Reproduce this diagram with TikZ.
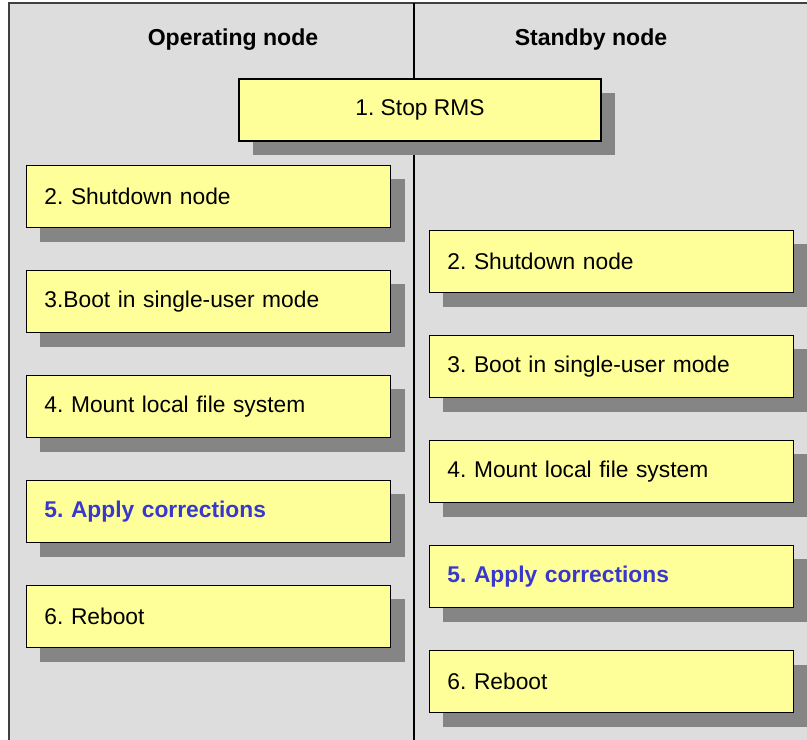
\documentclass[tikz,border=0pt]{standalone}
\usepackage{fontspec}
\setmainfont{Liberation Sans}
\usetikzlibrary{shadows}
\frenchspacing

\definecolor{panelgray}{HTML}{DDDDDD}
\definecolor{boxyellow}{HTML}{FFFF99}
\definecolor{shadowgray}{HTML}{858585}
\definecolor{fixblue}{HTML}{3838CC}

\tikzset{
	stepbox/.style = {draw = black, line width = 1.1pt, fill = boxyellow, minimum height = 1.55cm,
			inner ysep = 0pt, font = \fontsize{16.2}{19}\selectfont,
			drop shadow = {shadow xshift = 0.35cm, shadow yshift = -0.35cm, fill = shadowgray, opacity = 1}},
	listbox/.style = {stepbox, inner xsep = 0.45cm, text width = 8.2cm, align = left},
	plaintext/.style = {},
	fixtext/.style = {text = fixblue, font = \fontsize{16.2}{19}\selectfont\bfseries},
	head/.style = {font = \fontsize{16.4}{19}\selectfont\bfseries},
}

\begin{document}
\begin{tikzpicture}[x = 0.025cm, y = -0.025cm]
	\useasboundingbox (0, 0) rectangle (807, 740);
	\fill[white] (0, 0) rectangle (807, 740);
	\clip (0, 0) rectangle (807, 740);

	% panel and divider
	\draw[fill = panelgray, draw = black!75, line width = 0.9pt] (9, 3) rectangle (830, 760);
	\draw[line width = 0.9pt] (414, 3) -- (414, 760);

	\node[head] (ophead) at (233, 40) {Operating node};
	\node[head] (sbhead) at (591, 40) {Standby node};

	\node[stepbox, minimum width = 9.05cm, align = center] (stop) at (420, 110) {1. Stop RMS};

	\foreach \n/\txt/\sty in {2/{2. Shutdown node}/plaintext, 3/{3.Boot in single-user mode}/plaintext,
			4/{4. Mount local file system}/plaintext, 5/{5. Apply corrections}/fixtext, 6/{6. Reboot}/plaintext} {
			\node[listbox, \sty] (op\n) at (208.5, {196.5 + 105*(\n - 2)}) {\txt};
		}
	\foreach \n/\txt/\sty in {2/{2. Shutdown node}/plaintext, 3/{3. Boot in single-user mode}/plaintext,
			4/{4. Mount local file system}/plaintext, 5/{5. Apply corrections}/fixtext, 6/{6. Reboot}/plaintext} {
			\node[listbox, \sty] (sb\n) at (611.5, {261.5 + 105*(\n - 2)}) {\txt};
		}
\end{tikzpicture}
\end{document}
